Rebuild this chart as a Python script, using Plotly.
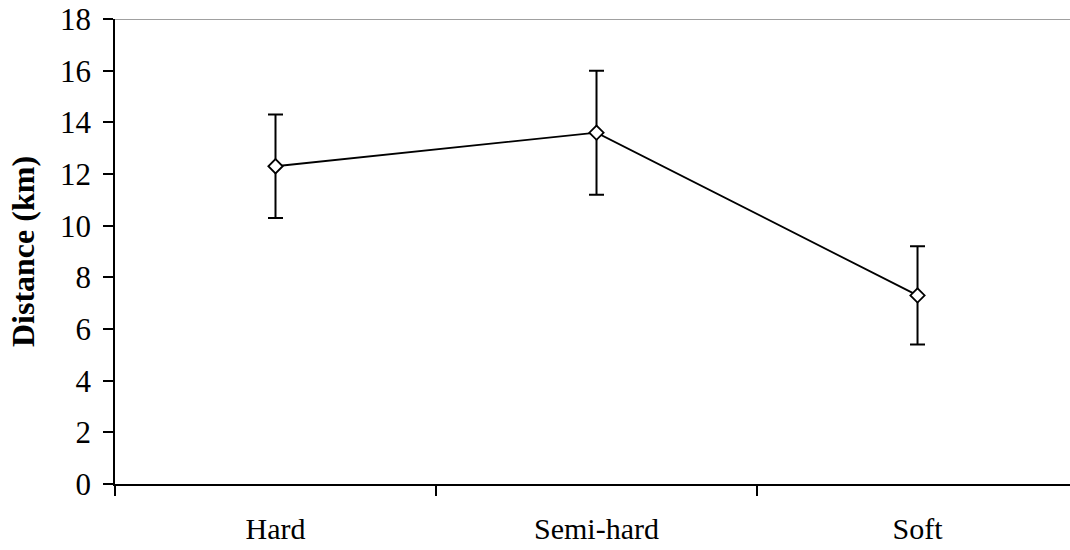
import plotly.graph_objects as go

categories = ["Hard", "Semi-hard", "Soft"]
distance_km = [12.3, 13.6, 7.3]
error_km = [2.0, 2.4, 1.9]
y_ticks = [0, 2, 4, 6, 8, 10, 12, 14, 16, 18]

xpos = list(range(len(categories)))
FONT = "Liberation Serif, Times New Roman, serif"

fig = go.Figure()
fig.add_trace(go.Scatter(
    x=xpos, y=distance_km,
    mode="lines+markers",
    line=dict(color="black", width=1.8),
    marker=dict(symbol="diamond", size=11, color="white",
                line=dict(color="black", width=1.8)),
    error_y=dict(type="data", array=error_km, visible=True,
                 color="black", thickness=2, width=7.5),
    showlegend=False,
))

fig.add_shape(type="line", xref="paper", yref="y", x0=0, x1=1, y0=18, y1=18,
              line=dict(color="#808080", width=1.5))

fig.update_layout(
    width=1070, height=550,
    margin=dict(l=115, r=0, t=19, b=66),
    paper_bgcolor="white", plot_bgcolor="white",
    font=dict(family=FONT, size=30, color="black"),
    xaxis=dict(
        range=[-0.5, 2.475], automargin=False,
        tickmode="array", tickvals=xpos, ticktext=categories,
        ticks="", showgrid=False, zeroline=False,
        showline=True, linecolor="black", linewidth=1.5,
        tickfont=dict(family=FONT, size=30, color="black"),
        ticklabelstandoff=17,
        minor=dict(tickmode="array", tickvals=[-0.5, 0.5, 1.5, 2.5],
                   ticks="outside", ticklen=10, tickwidth=1.5, tickcolor="black",
                   showgrid=False),
    ),
    yaxis=dict(
        range=[0, 18], automargin=False,
        tickmode="array", tickvals=y_ticks,
        ticks="outside", ticklen=10, tickwidth=1.5, tickcolor="black",
        showgrid=False, zeroline=False,
        showline=True, linecolor="black", linewidth=1.5,
        tickfont=dict(family=FONT, size=31, color="black"),
        ticklabelstandoff=6,
        title=dict(text="<b>Distance (km)</b>",
                   font=dict(family=FONT, size=32, color="black"),
                   standoff=16),
    ),
)

fig.write_html("out.html")
